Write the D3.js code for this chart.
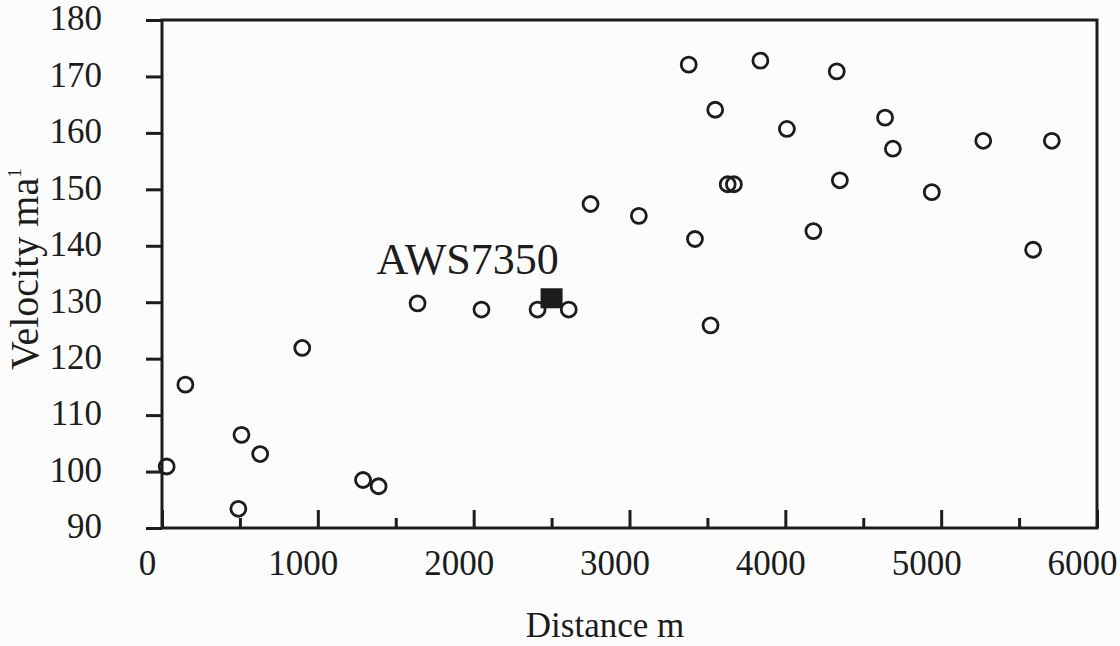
<!DOCTYPE html>
<html>
<head>
<meta charset="utf-8">
<script src="https://cdn.jsdelivr.net/npm/d3@7"></script>
<style>
  body { margin: 0; background: #fbfcfb; }
  svg { display: block; }
  text { font-family: "Liberation Serif", "Times New Roman", serif; fill: #1c1c1c; }
</style>
</head>
<body>
<div id="js_chart"></div>
<script>
// Distance (m) and velocity (m a-1) of the stakes
var distance = [30, 150, 510, 630, 490, 900, 1290, 1390, 1640, 2050, 2410, 2610,
    2750, 3060, 3380, 3420, 3520, 3550, 3630, 3670, 3840, 4010, 4180, 4330,
    4350, 4640, 4690, 4940, 5270, 5590, 5710];
var velocity = [100.9, 115.4, 106.5, 103.1, 93.4, 121.9, 98.5, 97.4, 129.8, 128.7, 128.7, 128.7,
    147.4, 145.3, 172.1, 141.2, 125.9, 164.1, 150.9, 150.9, 172.8, 160.7, 142.6, 170.9,
    151.6, 162.7, 157.2, 149.5, 158.6, 139.3, 158.6];

// weather station
var stationName = "AWS7350";
var stationDistance = [2500];
var stationVelocity = [130.7];

var xTicks = [0, 1000, 2000, 3000, 4000, 5000, 6000];
var xMinorTicks = [500, 1500, 2500, 3500, 4500, 5500];
var yTicks = [90, 100, 110, 120, 130, 140, 150, 160, 170, 180];

var width = 1120,
    height = 646;
var margin = {top: 20, right: 23, bottom: 118, left: 162};

var x = d3.scaleLinear()
    .domain([0, 6000])
    .range([margin.left, width - margin.right]);

var y = d3.scaleLinear()
    .domain([90, 180])
    .range([height - margin.bottom, margin.top]);

var svg = d3.select("#js_chart")
    .append("svg")
    .attr("width", width)
    .attr("height", height);

var ink = "#1c1c1c";

// y axis, ticks pointing out
var yAxis = svg.append("g")
    .attr("transform", "translate(" + margin.left + ",0)")
    .call(d3.axisLeft(y).tickValues(yTicks).tickSize(16).tickPadding(44));
yAxis.select(".domain").remove();
yAxis.selectAll("line").attr("stroke", ink).attr("stroke-width", 3);
yAxis.selectAll("text")
    .attr("font-size", "35px")
    .attr("dy", "0.28em")
    .style("font-family", "Liberation Serif");

// x axis: major and minor ticks pointing in
var xAxis = svg.append("g")
    .attr("transform", "translate(0," + y(90) + ")")
    .call(d3.axisBottom(x).tickValues(xTicks).tickSize(-18).tickPadding(22).tickFormat(d3.format("d")));
xAxis.select(".domain").remove();
xAxis.selectAll("line").attr("stroke", ink).attr("stroke-width", 3);
xAxis.selectAll("text")
    .attr("font-size", "35px")
    .attr("dx", -15)
    .style("font-family", "Liberation Serif");

var xMinor = svg.append("g")
    .attr("transform", "translate(0," + y(90) + ")")
    .call(d3.axisBottom(x).tickValues(xMinorTicks).tickSize(-10).tickFormat(""));
xMinor.select(".domain").remove();
xMinor.selectAll("line").attr("stroke", ink).attr("stroke-width", 3);

// frame
svg.append("rect")
    .attr("x", x(0))
    .attr("y", y(180))
    .attr("width", x(6000) - x(0))
    .attr("height", y(90) - y(180))
    .attr("fill", "none")
    .attr("stroke", ink)
    .attr("stroke-width", 3);

// axis titles
svg.append("text")
    .attr("x", 605)
    .attr("y", 637)
    .attr("text-anchor", "middle")
    .attr("font-size", "35px")
    .text("Distance m");

var yTitle = svg.append("text")
    .attr("transform", "translate(38,370) rotate(-90)")
    .attr("font-size", "40px")
    .text("Velocity ma");
yTitle.append("tspan")
    .attr("font-size", "19px")
    .attr("dy", "-17")
    .text("1");

// stakes
var points = distance.map(function (d, i) {
    return {x: d, y: velocity[i]};
});

svg.append("g")
    .selectAll("circle")
    .data(points)
    .enter().append("circle")
    .attr("cx", function (d) { return x(d.x); })
    .attr("cy", function (d) { return y(d.y); })
    .attr("r", 7.5)
    .attr("fill", "none")
    .attr("stroke", ink)
    .attr("stroke-width", 2.8);

// station marker + label
var station = stationDistance.map(function (d, i) {
    return {x: d, y: stationVelocity[i], name: stationName};
});

svg.append("g")
    .selectAll("rect")
    .data(station)
    .enter().append("rect")
    .attr("x", function (d) { return x(d.x) - 11; })
    .attr("y", function (d) { return y(d.y) - 10; })
    .attr("width", 22)
    .attr("height", 20)
    .attr("fill", ink);

svg.append("g")
    .selectAll("text")
    .data(station)
    .enter().append("text")
    .attr("x", function (d) { return x(d.x) - 175; })
    .attr("y", function (d) { return y(d.y) - 24; })
    .attr("font-size", "44px")
    .text(function (d) { return d.name; });
</script>
</body>
</html>
